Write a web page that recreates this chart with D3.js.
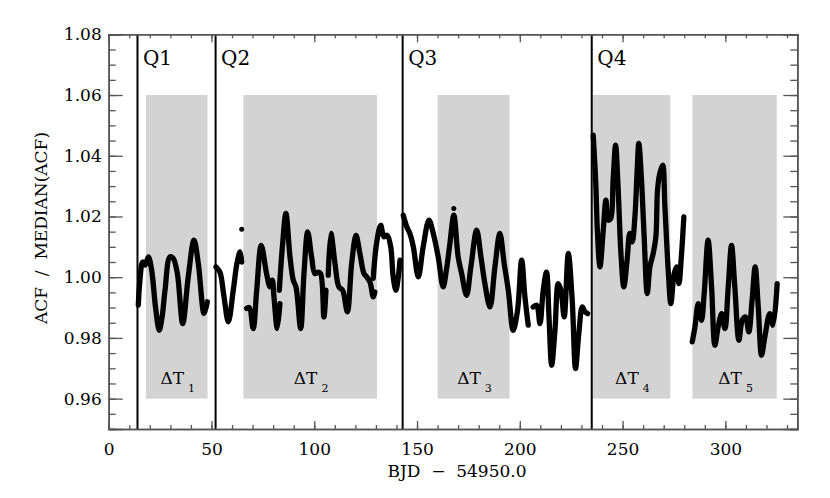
<!DOCTYPE html>
<html>
<head>
<meta charset="utf-8">
<script src="https://cdn.jsdelivr.net/npm/d3@7"></script>
<style>
  body { margin: 0; background: #fff; }
  text { font-family: "DejaVu Serif", serif; fill: #000; }
</style>
</head>
<body>
<div id="display"></div>
<script>
// quarter boundaries and the delta-T windows (BJD - 54950.0)
var quarterNames = ['Q1', 'Q2', 'Q3', 'Q4']
var quarterStarts = [14, 52, 143, 235]
var windowNames = ['1', '2', '3', '4', '5']
var windowStarts = [18.1, 65.5, 160, 235.4, 284]
var windowEnds = [48.1, 130.5, 195, 273.2, 325]
var windowTop = 1.06
var windowBottom = 0.96

var xTicks = [0, 50, 100, 150, 200, 250, 300]
var yTicks = [0.96, 0.98, 1.00, 1.02, 1.04, 1.06, 1.08]

// ACF / median(ACF) traces, one array per unbroken run
var q1Run = [[14.4,0.9908],[15.2,0.999],[16.5,1.005],[17.7,1.004],[19.3,1.0067],[20.9,1.0023],[22.8,0.990],[24.6,0.9825],[26.0,0.987],[27.4,0.9957],[29.8,1.0067],[31.4,1.0062],[33.4,1.0012],[36.0,0.9847],[38.7,1.0001],[41.5,1.0122],[43.6,1.0045],[46.4,0.988],[48.0,0.9919]]
var q2RunA = [[52.2,1.0034],[54.1,1.0017],[56.0,0.994],[58.2,0.9853],[60.6,0.9957],[62.5,1.005],[63.9,1.0083],[64.7,1.005]]
var q2RunB = [[67.1,0.9897],[68.4,0.990],[70.3,0.9831],[72.0,0.9957],[74.2,1.0105],[76.8,1.0012],[78.5,0.9968],[79.6,0.999],[80.4,0.9935],[82.0,0.9831],[83.3,0.9913]]
var q2RunC = [[83.0,0.9957],[84.5,1.010],[86.2,1.021],[88.2,1.0067],[89.8,0.999],[91.1,0.9968],[93.4,0.9831],[95.0,1.0012],[96.8,1.0149],[98.7,1.0067],[100.3,1.0012],[101.9,1.0017],[103.1,1.0012],[104.7,0.9869],[105.7,0.9957]]
var q2RunD = [[106.8,1.0007],[108.1,1.0144],[110.1,1.0045],[112.0,0.9968],[113.8,0.9957],[116.1,0.9886],[118.2,1.0045],[120.3,1.0138],[122.2,1.0078],[124.2,1.0012],[125.5,1.0001],[127.1,0.9984],[128.7,0.9935],[129.5,0.9951]]
var q2RunE = [[128.7,0.9996],[130.3,1.0111],[132.3,1.0171],[133.9,1.0133],[135.5,1.0138],[137.2,1.01],[138.4,1.0001],[139.7,0.9957],[140.9,1.0001],[141.7,1.0056]]
var q3RunA = [[143.3,1.0204],[145.0,1.0166],[146.5,1.0144],[148.2,1.01],[150.6,1.0001],[153.0,1.01],[155.8,1.0188],[157.9,1.0144],[160.3,1.0067],[162.7,0.9968],[164.4,1.0029],[166.0,1.0111],[167.9,1.0204],[170.0,1.0067],[171.7,1.0012],[174.1,0.994],[176.2,1.0034],[179.0,1.0155],[181.1,1.0067],[183.0,0.9979],[185.5,0.9902],[187.9,1.0034],[190.3,1.0144],[192.4,1.0045],[194.4,0.9957],[196.8,0.9825],[198.9,0.9891],[200.9,1.0056],[202.5,0.9935],[204.1,0.9842]]
var q3RunB = [[206.5,0.9902],[208.2,0.9908],[209.8,0.9847],[211.4,0.9957],[213.0,1.0017],[214.2,0.9869],[215.5,0.971],[217.1,0.9825],[218.7,0.9979],[220.0,0.9957],[221.6,0.9869],[223.6,1.0078],[225.5,0.9924],[227.1,0.9699],[228.7,0.9814],[230.4,0.9902],[231.7,0.9886],[233.0,0.988]]
var q4RunA = [[235.7,1.0468],[236.9,1.032],[237.8,1.0144],[239.0,1.0034],[240.6,1.0155],[241.9,1.0254],[243.0,1.0188],[244.2,1.0193],[245.4,1.032],[246.6,1.0435],[247.8,1.0298],[249.2,1.0078],[250.6,0.9968],[252.2,1.0056],[253.5,1.0144],[254.7,1.0116],[256.0,1.0199],[257.1,1.0353],[257.9,1.0441],[259.2,1.032],[260.5,1.0133],[262.0,0.9946],[263.3,1.0034],[264.9,1.0078],[266.2,1.0133],[267.0,1.0287],[268.1,1.0342],[269.5,1.0369],[270.6,1.0232],[272.2,1.0023],[273.5,0.9913],[275.1,1.0012],[276.3,1.0034],[277.4,0.9979],[278.7,1.0078],[279.8,1.0199]]
var q4RunB = [[283.9,0.9787],[285.2,0.9836],[286.8,0.9913],[288.4,0.9858],[289.7,0.9946],[291.6,1.0122],[293.3,0.9968],[294.9,0.9776],[296.5,0.9836],[298.2,0.988],[299.8,0.9831],[301.4,0.9968],[303.0,1.0105],[304.6,0.9968],[306.6,0.9792],[308.2,0.9858],[309.8,0.9869],[311.4,0.982],[313.0,0.9924],[314.5,1.0034],[316.0,0.9902],[317.6,0.9743],[319.2,0.9803],[321.6,0.988],[323.2,0.9842],[325.2,0.9979]]
// stray single points
var strayPoints = [[64.7,1.0158],[167.9,1.0226]]

var runs = [q1Run, q2RunA, q2RunB, q2RunC, q2RunD, q2RunE, q3RunA, q3RunB, q4RunA, q4RunB]

var width = 830, height = 498
var margin = {top: 34.3, right: 32.7, bottom: 69, left: 108.7}
var w = width - margin.left - margin.right
var h = height - margin.top - margin.bottom

var svg = d3.select('#display').append('svg')
  .attr('width', width)
  .attr('height', height)

var g = svg.append('g').attr('transform', 'translate(' + margin.left + ',' + margin.top + ')')

var x = d3.scaleLinear().domain([0, 335]).range([0, w])
var y = d3.scaleLinear().domain([0.95, 1.08]).range([h, 0])

// grey windows
g.selectAll('rect.win').data(windowStarts).enter()
  .append('rect')
  .attr('class', 'win')
  .attr('x', function(d){ return x(d) })
  .attr('y', y(windowTop))
  .attr('width', function(d, i){ return x(windowEnds[i]) - x(d) })
  .attr('height', y(windowBottom) - y(windowTop))
  .attr('fill', '#d3d3d3')

// window labels
var lab = g.selectAll('text.win').data(windowStarts).enter()
  .append('text')
  .attr('class', 'win')
  .attr('x', function(d, i){ return (x(d) + x(windowEnds[i])) / 2 + 1 })
  .attr('y', y(windowBottom) - 15)
  .attr('text-anchor', 'middle')
  .attr('font-size', 17)
lab.append('tspan').text('ΔT')
lab.append('tspan')
  .attr('font-size', 11)
  .attr('dx', 4)
  .attr('dy', 8)
  .text(function(d, i){ return windowNames[i] })

// quarter boundaries
g.selectAll('line.q').data(quarterStarts).enter()
  .append('line')
  .attr('class', 'q')
  .attr('x1', function(d){ return x(d) })
  .attr('x2', function(d){ return x(d) })
  .attr('y1', 0)
  .attr('y2', h)
  .attr('stroke', '#000')
  .attr('stroke-width', 2)

g.selectAll('text.q').data(quarterStarts).enter()
  .append('text')
  .attr('class', 'q')
  .attr('x', function(d){ return x(d) + 5.5 })
  .attr('y', 31)
  .attr('font-size', 20)
  .text(function(d, i){ return quarterNames[i] })

// data
var line = d3.line()
  .x(function(d){ return x(d[0]) })
  .y(function(d){ return y(d[1]) })
  .curve(d3.curveCatmullRom.alpha(0.5))

g.selectAll('path.acf').data(runs).enter()
  .append('path')
  .attr('class', 'acf')
  .attr('d', line)
  .attr('fill', 'none')
  .attr('stroke', '#000')
  .attr('stroke-width', 5.3)
  .attr('stroke-linejoin', 'round')
  .attr('stroke-linecap', 'round')

g.selectAll('circle.stray').data(strayPoints).enter()
  .append('circle')
  .attr('class', 'stray')
  .attr('cx', function(d){ return x(d[0]) })
  .attr('cy', function(d){ return y(d[1]) })
  .attr('r', 2.5)
  .attr('fill', '#000')

// axes, ticks pointing inwards
var xMinor = d3.range(0, 336, 10)
var yMinor = d3.range(0.95, 1.0801, 0.005)

function styleAxis(sel){
  sel.select('.domain').attr('stroke', '#555').attr('stroke-width', 1.6)
  sel.selectAll('.tick line').attr('stroke', '#555').attr('stroke-width', 1.3)
  sel.selectAll('.tick text').attr('font-family', '"DejaVu Serif", serif').attr('font-size', 17).attr('fill', '#000')
}

g.append('g').attr('transform', 'translate(0,' + h + ')')
  .call(d3.axisBottom(x).tickValues(xMinor).tickSize(-4).tickFormat(''))
  .call(styleAxis)
g.append('g').attr('transform', 'translate(0,' + h + ')')
  .call(d3.axisBottom(x).tickValues(xTicks).tickSize(-8).tickPadding(14).tickFormat(d3.format('d')))
  .call(styleAxis)
g.append('g')
  .call(d3.axisTop(x).tickValues(xMinor).tickSize(-4).tickFormat(''))
  .call(styleAxis)
g.append('g')
  .call(d3.axisTop(x).tickValues(xTicks).tickSize(-8).tickFormat(''))
  .call(styleAxis)

g.append('g')
  .call(d3.axisLeft(y).tickValues(yMinor).tickSize(-7).tickFormat(''))
  .call(styleAxis)
g.append('g')
  .call(d3.axisLeft(y).tickValues(yTicks).tickSize(-14).tickPadding(7).tickFormat(d3.format('.2f')))
  .call(styleAxis)
g.append('g').attr('transform', 'translate(' + w + ',0)')
  .call(d3.axisRight(y).tickValues(yMinor).tickSize(-7).tickFormat(''))
  .call(styleAxis)
g.append('g').attr('transform', 'translate(' + w + ',0)')
  .call(d3.axisRight(y).tickValues(yTicks).tickSize(-14).tickFormat(''))
  .call(styleAxis)

// axis titles
svg.append('text')
  .attr('x', margin.left + w / 2 + 4)
  .attr('y', 477)
  .attr('text-anchor', 'middle')
  .attr('font-size', 17)
  .attr('xml:space', 'preserve')
  .text('BJD  −  54950.0')

svg.append('text')
  .attr('transform', 'translate(47,228) rotate(-90)')
  .attr('text-anchor', 'middle')
  .attr('font-size', 17)
  .attr('xml:space', 'preserve')
  .text('ACF  /  MEDIAN(ACF)')
</script>
</body>
</html>
